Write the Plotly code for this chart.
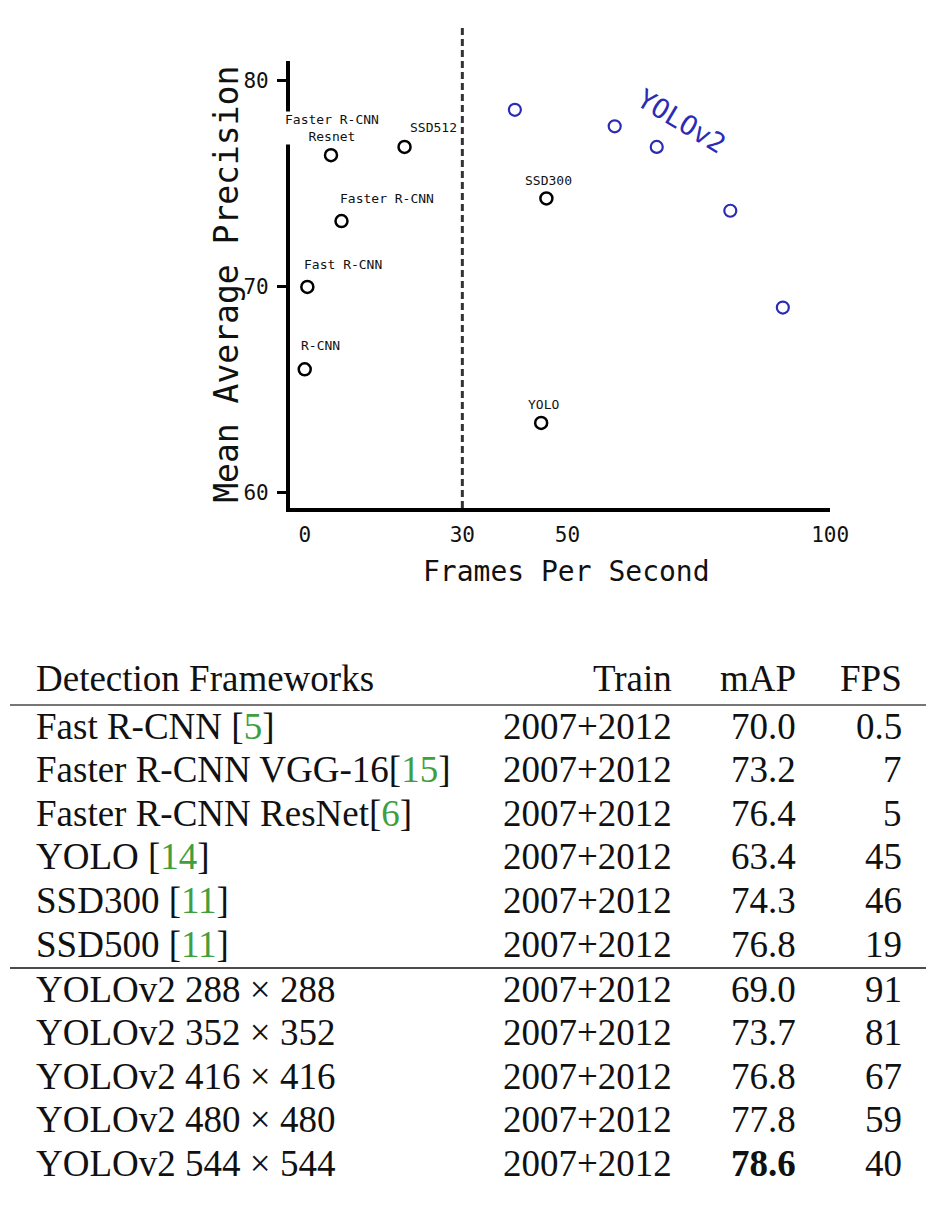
import plotly.graph_objects as go

# ---------------- data: scatter ----------------
other_names = ["R-CNN", "Fast R-CNN", "Faster R-CNN", "Faster R-CNN<br>Resnet", "SSD512", "SSD300", "YOLO"]
other_fps = [0, 0.5, 7, 5, 19, 46, 45]
other_map = [66.0, 70.0, 73.2, 76.4, 76.8, 74.3, 63.4]
yolo2_fps = [40, 59, 67, 81, 91]
yolo2_map = [78.6, 77.8, 76.8, 73.7, 69.0]
realtime_fps = 30
x_ticks = [0, 30, 50, 100]
y_ticks = [60, 70, 80]

# ---------------- data: table ----------------
header = ["Detection Frameworks", "Train", "mAP", "FPS"]
group1_names = ["Fast R-CNN ", "Faster R-CNN VGG-16", "Faster R-CNN ResNet", "YOLO ", "SSD300 ", "SSD500 "]
group1_refs = ["5", "15", "6", "14", "11", "11"]
group1_train = ["2007+2012"] * 6
group1_map = ["70.0", "73.2", "76.4", "63.4", "74.3", "76.8"]
group1_fps = ["0.5", "7", "5", "45", "46", "19"]
group2_names = ["YOLOv2 288 \u00d7 288", "YOLOv2 352 \u00d7 352", "YOLOv2 416 \u00d7 416",
                "YOLOv2 480 \u00d7 480", "YOLOv2 544 \u00d7 544"]
group2_train = ["2007+2012"] * 5
group2_map = ["69.0", "73.7", "76.8", "77.8", "78.6"]
group2_fps = ["91", "81", "67", "59", "40"]
best_map = "78.6"

# the page is captured ~2% narrower than the figure, so the figure is made
# slightly wider while positions are expressed against the 946 px picture
W_FIG, W, H = 964, 946, 1212
def px(x):
    return x / W
def py(y):
    return 1 - y / H

MONO = "DejaVu Sans Mono"
SERIF = "Liberation Serif, Times New Roman, serif"
BLUE = "#2b2bb5"

fig = go.Figure()
fig.add_trace(go.Scatter(
    x=other_fps, y=other_map, mode="markers",
    marker=dict(symbol="circle-open", size=12, color="black", line=dict(width=2.5)),
    showlegend=False, hoverinfo="skip"))
fig.add_trace(go.Scatter(
    x=yolo2_fps, y=yolo2_map, mode="markers",
    marker=dict(symbol="circle-open", size=12, color=BLUE, line=dict(width=2.2)),
    showlegend=False, hoverinfo="skip"))

label_shift = [(16, 15), (36, 14), (46, 14), (1, 10), (29, 11), (2, 9), (2, 10)]
for name, fx, fy, (dx, dy) in zip(other_names, other_fps, other_map, label_shift):
    fig.add_annotation(x=fx, y=fy, xref="x", yref="y", text=name, showarrow=False,
                       xanchor="center", yanchor="bottom", xshift=dx, yshift=dy,
                       font=dict(family=MONO, size=13, color="#111"),
                       bgcolor="white" if "Resnet" in name else None,
                       borderpad=0)

fig.add_annotation(x=px(683), y=py(121), xref="paper", yref="paper", text="YOLOv2",
                   showarrow=False, textangle=31, xanchor="center", yanchor="middle",
                   font=dict(family=MONO, size=27, color=BLUE))

fig.add_shape(type="line", xref="x", yref="paper", x0=realtime_fps, x1=realtime_fps,
              y0=py(508), y1=py(28), line=dict(color="#333", width=3, dash="7px,4px"))

fig.update_xaxes(domain=[px(290), px(831)], range=[-2.86, 100], tickvals=x_ticks,
                 ticks="", showline=True, linewidth=3.5, linecolor="black",
                 showgrid=False, zeroline=False, ticklabelstandoff=5,
                 tickfont=dict(family=MONO, size=21, color="#111"))
fig.update_yaxes(domain=[py(508), py(61)], range=[59.27, 80.97], tickvals=y_ticks,
                 ticks="outside", ticklen=9, tickwidth=2.5, tickcolor="black",
                 showline=True, linewidth=3.5, linecolor="black",
                 showgrid=False, zeroline=False, ticklabelstandoff=4,
                 tickfont=dict(family=MONO, size=21, color="#111"))

fig.add_annotation(x=px(567), y=py(571), xref="paper", yref="paper", text="Frames Per Second",
                   showarrow=False, xanchor="center", yanchor="middle",
                   font=dict(family=MONO, size=28, color="#111"))
fig.add_annotation(x=px(226), y=py(284), xref="paper", yref="paper", text="Mean Average Precision",
                   showarrow=False, textangle=-90, xanchor="center", yanchor="middle",
                   font=dict(family=MONO, size=33, color="#111"))

col_left = px(34)
col_train_r = px(675)
col_map_r = px(799)
col_fps_r = px(905)
FS = 37
GREEN = "#3f9f3f"

def cell(text, x, y, anchor, bold=False):
    fig.add_annotation(x=x, y=y, xref="paper", yref="paper", text=("<b>%s</b>" % text) if bold else text,
                       showarrow=False, xanchor=anchor, yanchor="middle",
                       font=dict(family=SERIF, size=FS, color="#111"))

header_y = 678
cell(header[0], col_left, py(header_y), "left")
cell(header[1], col_train_r, py(header_y), "right")
cell(header[2], col_map_r, py(header_y), "right")
cell(header[3], col_fps_r, py(header_y), "right")

row_h = 43.6
g1_top = 726
for i, (n, r, t, m, f) in enumerate(zip(group1_names, group1_refs, group1_train, group1_map, group1_fps)):
    y = py(g1_top + i * row_h)
    cell(n + "[<span style='color:%s'>%s</span>]" % (GREEN, r), col_left, y, "left")
    cell(t, col_train_r, y, "right")
    cell(m, col_map_r, y, "right")
    cell(f, col_fps_r, y, "right")

g2_top = 989
for i, (n, t, m, f) in enumerate(zip(group2_names, group2_train, group2_map, group2_fps)):
    y = py(g2_top + i * row_h)
    cell(n, col_left, y, "left")
    cell(t, col_train_r, y, "right")
    cell(m, col_map_r, y, "right", bold=(m == best_map))
    cell(f, col_fps_r, y, "right")

fig.add_shape(type="line", xref="paper", yref="paper", x0=px(10), x1=px(927),
              y0=py(705), y1=py(705), line=dict(color="#777", width=2.2))
fig.add_shape(type="line", xref="paper", yref="paper", x0=px(10), x1=px(927),
              y0=py(968), y1=py(968), line=dict(color="#111", width=1.5))

fig.update_layout(width=W_FIG, height=H, autosize=False, margin=dict(l=0, r=0, t=0, b=0, pad=0),
                  paper_bgcolor="white", plot_bgcolor="white", showlegend=False)

fig.write_html("out.html")
